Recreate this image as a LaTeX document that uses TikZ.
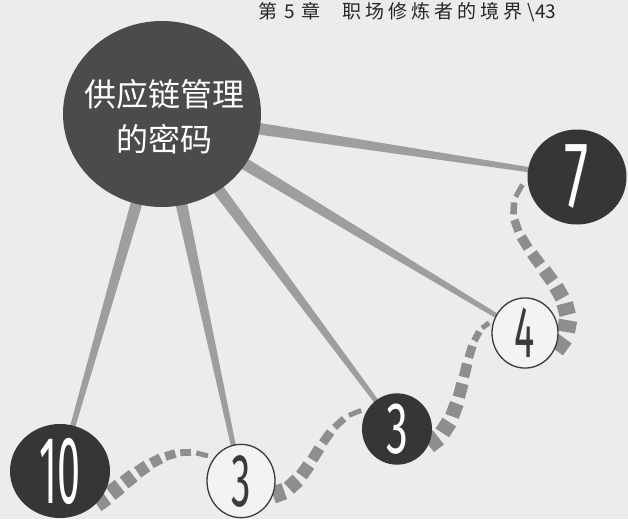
\documentclass[tikz,border=0pt]{standalone}
\usepackage{fontspec}
\setmainfont{Fira Sans}
\newfontfamily\cjk{Noto Sans CJK SC}
\usetikzlibrary{shapes.geometric,calc,backgrounds}
\definecolor{bgcol}{HTML}{ECECEC}
\definecolor{hubcol}{HTML}{4B4B4B}
\definecolor{darkcol}{HTML}{363636}
\definecolor{spokecol}{HTML}{9E9E9E}
\definecolor{dashcol}{HTML}{8E8E8E}
\definecolor{lightcol}{HTML}{F3F3F3}
\definecolor{inkcol}{HTML}{3A3A3A}
\newcommand\bignum[3]{\scalebox{#2}[1]{\fontsize{#1}{#1}\selectfont #3}}
\newcommand\taperdash[7]{%
  \foreach \i in {1,...,#5}{%
    \pgfmathsetmacro\dta{(\i-1)/#5}%
    \pgfmathsetmacro\dtb{(\i-0.32)/#5}%
    \pgfmathsetmacro\dhw{0.5*(#6+(#7-#6)*(\i-1)/(#5-1))}%
    \path #1 .. controls #2 and #3 .. #4 coordinate[pos=\dta] (da) coordinate[pos=\dtb] (db);
    \fill[dashst] ($(da)!\dhw pt!90:(db)$) -- ($(db)!\dhw pt!-90:(da)$) -- ($(db)!\dhw pt!90:(da)$) -- ($(da)!\dhw pt!-90:(db)$) -- cycle;
  }}
\begin{document}
\begin{tikzpicture}[x=1pt,y=-1pt,
  hubst/.style={ellipse, fill=hubcol, inner sep=0pt},
  darkst/.style={ellipse, fill=darkcol, inner sep=0pt, text=white},
  lightst/.style={ellipse, fill=lightcol, draw=inkcol, line width=1.3pt, inner sep=0pt, text=inkcol},
  spoke/.style={fill=spokecol},
  dashst/.style={fill=dashcol},
  labelst/.style={inner sep=0pt}]
\useasboundingbox (0,0) rectangle (628,519);

% header
\node[labelst, anchor=west, text=black!85] (head) at (258,12)
  {\cjk\fontsize{19}{19}\selectfont 第\kern7pt 5\kern7pt 章\kern22pt 职\kern4pt 场\kern4pt 修\kern4pt 炼\kern4pt 者\kern4pt 的\kern4pt 境\kern4pt 界\kern5pt \textbackslash 43};

% hub
\node[hubst, minimum width=198pt, minimum height=186pt] (hub) at (162,114) {};
\node[labelst, text=white, align=center, font=\cjk\fontsize{32}{45}\selectfont] (hubtext) at (164,117) {供应链管理\\的密码};

% numbered nodes
\node[darkst, minimum width=99pt, minimum height=95pt] (n7) at (577,177) {\bignum{94}{0.58}{7}};
\node[lightst, minimum width=66pt, minimum height=63pt] (n4) at (525,333) {\bignum{73}{0.52}{4}};
\node[darkst, minimum width=70pt, minimum height=67pt] (n3d) at (397,429) {\bignum{73}{0.6}{3}};
\node[lightst, minimum width=68pt, minimum height=66pt] (n3l) at (241,481) {\bignum{75}{0.52}{3}};
\node[darkst, minimum width=100pt, minimum height=94pt] (n10) at (60,471) {\bignum{96}{0.43}{10}};

\begin{scope}[on background layer]
  \fill[bgcol] (0,0) rectangle (628,519);
  \foreach \t in {n7,n4,n3d,n3l,n10}{
    \fill[spoke] ($(hub)!7pt!90:(\t)$) -- ($(\t)!2pt!-90:(hub)$) -- ($(\t)!2pt!90:(hub)$) -- ($(hub)!7pt!-90:(\t)$) -- cycle;
  }
  \taperdash{(n10.-42)}{(135,478)}{(165,437)}{(n3l.140)}{8}{18}{5}
  \taperdash{(n3l.-24)}{(315,487)}{(318,415)}{(n3d.146)}{7}{17}{5}
  \taperdash{(n3d.-27)}{(472,420)}{(458,330)}{(n4.160)}{8}{18}{5}
  \taperdash{(n4.-29)}{(610,290)}{(470,240)}{(n7.182)}{10}{20}{5}
\end{scope}
\end{tikzpicture}
\end{document}
